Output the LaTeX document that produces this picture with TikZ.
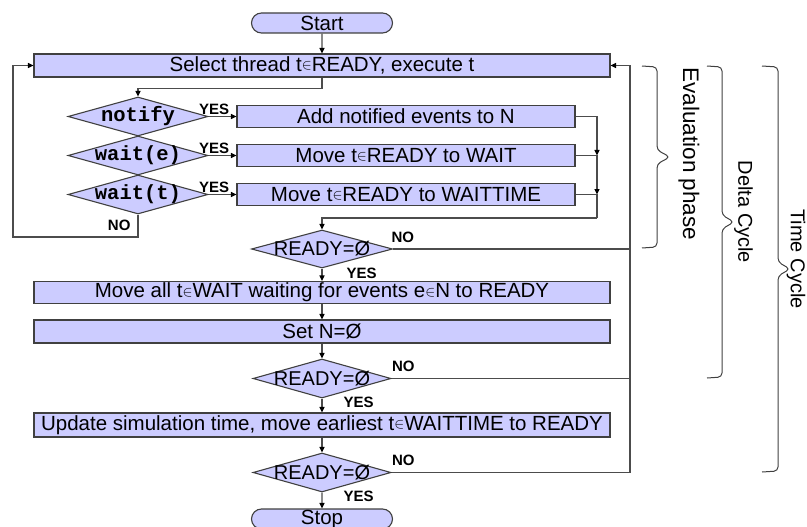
\documentclass[tikz,border=0pt]{standalone}
\usepackage{fontspec}
\setmainfont{Liberation Sans}
\newfontfamily\codefont{Liberation Mono}
\usetikzlibrary{shapes.geometric,shapes.misc,arrows.meta}
\definecolor{boxfill}{HTML}{CCCCFF}
\definecolor{edgegray}{HTML}{404040}
\newcommand{\elem}{\raisebox{0.15ex}{\scalebox{0.72}{$\in$}}}

\begin{document}
\begin{tikzpicture}
[x=1pt, y=-1pt, every node/.style={inner sep=0pt},
 >={Triangle[length=5.5pt, width=5pt, color=black]},
 box/.style={rectangle, fill=boxfill, draw=edgegray, line width=1.1pt, minimum height=22pt, font=\fontsize{20.5}{24}\selectfont},
 cond/.style={diamond, fill=boxfill, draw=edgegray, line width=1.1pt, aspect=3.6, minimum width=140pt, minimum height=39pt},
 term/.style={rounded rectangle, fill=boxfill, draw=edgegray, line width=1.1pt, minimum width=141pt, minimum height=20pt, font=\fontsize{20.5}{24}\selectfont},
 code/.style={font=\codefont\bfseries\fontsize{20.5}{24}\selectfont},
 readyfont/.style={font=\fontsize{20}{24}\selectfont},
 conn/.style={line width=1.1pt, draw=black!70},
 lbl/.style={font=\fontsize{15}{17}\selectfont\bfseries},
 bracket/.style={line width=1pt, draw=edgegray, rounded corners=4pt},
 side/.style={rotate=-90, font=\fontsize{20}{24}\selectfont}]
\useasboundingbox (0, 0) rectangle (807, 527);
% flow chart
\node (start) [term] at (322, 23) {Start};
\node (select) [box, minimum width=576pt, minimum height=23pt] at (322, 65.5) {Select thread t\elem READY, execute t};
\node (notify) [cond, label={[code]center:notify}] at (138, 116.5) {};
\node (waite) [cond, label={[code]center:wait(e)}] at (138, 155.5) {};
\node (waitt) [cond, label={[code]center:wait(t)}] at (138, 194.5) {};
\node (addn) [box, minimum width=338pt] at (406, 116.5) {Add notified events to N};
\node (movew) [box, minimum width=338pt] at (406, 155.5) {Move t\elem READY to WAIT};
\node (movet) [box, minimum width=338pt] at (406, 194.5) {Move t\elem READY to WAITTIME};
\node (ready1) [cond, minimum width=141pt, minimum height=38pt, label={[readyfont]center:{READY=Ø}}] at (322, 249) {};
\node (moveall) [box, minimum width=576pt] at (322, 292.5) {Move all t\elem WAIT waiting for events e\elem N to READY};
\node (setn) [box, minimum width=576pt, minimum height=23pt] at (322, 331.5) {Set N=Ø};
\node (ready2) [cond, minimum width=138pt, label={[readyfont]center:{READY=Ø}}] at (322, 378.5) {};
\node (update) [box, minimum width=576pt, minimum height=24pt] at (322, 425) {Update simulation time, move earliest t\elem WAITTIME to READY};
\node (ready3) [cond, minimum width=138pt, label={[readyfont]center:{READY=Ø}}] at (322, 472.5) {};
\node (stop) [term] at (322, 519) {Stop};
\coordinate (j1) at (597, 155.5);
\coordinate (j2) at (597, 194.5);
\coordinate (j3) at (597, 218);
\coordinate (loop) at (13, 237);
\coordinate (bus) at (630, 65.5);
% connectors
\draw [conn, ->] (start) to (select);
\draw [conn, ->] (select.south) -- ++(0, 11) -| (notify.north);
\draw [conn, ->] (notify.east) to node [lbl, above=1.5pt, pos=0.2] {YES} (addn.west);
\draw [conn, ->] (waite.east) to node [lbl, above=1.5pt, pos=0.2] {YES} (movew.west);
\draw [conn, ->] (waitt.east) to node [lbl, above=1.5pt, pos=0.2] {YES} (movet.west);
\draw [conn, ->] (waitt.south) -- node [lbl, left=7pt] {NO} (waitt.south |- loop) -- (loop) |- (select.west);
\draw [conn, ->] (addn.east) -| (j1);
\draw [conn, ->] (movew.east) -- (j1) -- (j2);
\draw [conn] (movet.east) -- (j2) -- (j3);
\draw [conn, ->] (j3) -| (ready1.north);
\draw [conn, ->] (ready1) to node [lbl, right=24pt, pos=0.35] {YES} (moveall);
\draw [conn, ->] (moveall) to (setn);
\draw [conn, ->] (setn) to (ready2);
\draw [conn, ->] (ready2) to node [lbl, right=21pt, pos=0.25] {YES} (update);
\draw [conn, ->] (update) to (ready3);
\draw [conn, ->] (ready3) to node [lbl, right=21pt, pos=0.25] {YES} (stop);
\draw [conn] (ready1.east) -- node [lbl, anchor=south west, pos=0, xshift=-2pt, yshift=6pt] {NO} (ready1.east -| bus);
\draw [conn] (ready2.east) -- node [lbl, anchor=south west, pos=0, xshift=0pt, yshift=6pt] {NO} (ready2.east -| bus);
\draw [conn, ->] (ready3.east) -- node [lbl, anchor=south west, pos=0, xshift=0pt, yshift=6pt] {NO} (ready3.east -| bus) -- (bus) -- (select.east);
% phases
\draw [bracket] (642, 66) -- (657, 67) -- (657, 150) -- (670, 157) -- (657, 164) -- (657, 247) -- (642, 248);
\node (evaltext) [side, font=\fontsize{22.5}{26}\selectfont] at (689, 154) {Evaluation phase};
\draw [bracket] (707, 66) -- (722, 67) -- (722, 215) -- (734, 222) -- (722, 229) -- (722, 377) -- (707, 378);
\node (deltatext) [side] at (743.5, 212) {Delta Cycle};
\draw [bracket] (762, 66) -- (778, 67) -- (778, 262) -- (790, 269) -- (778, 276) -- (778, 471) -- (762, 472);
\node (timetext) [side] at (796, 259) {Time Cycle};
\end{tikzpicture}
\end{document}
